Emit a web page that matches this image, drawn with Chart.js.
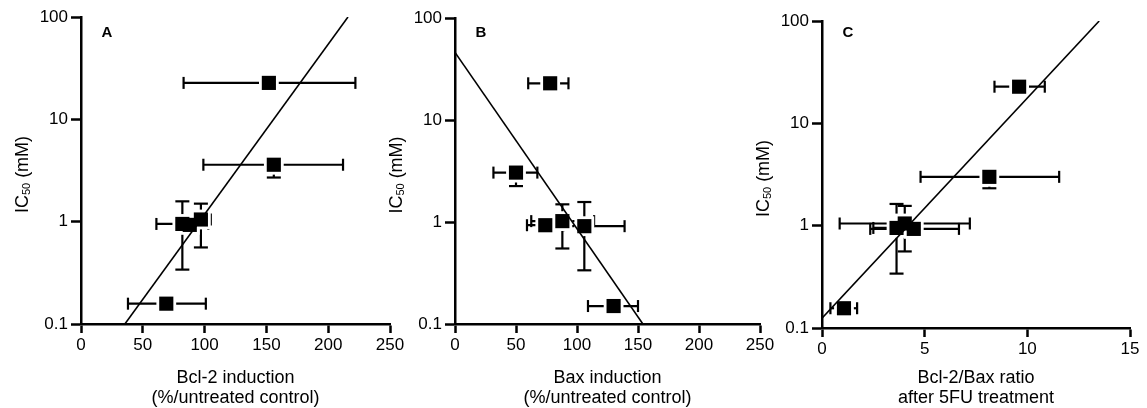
<!DOCTYPE html>
<html>
<head>
<meta charset="utf-8">
<script src="https://cdn.jsdelivr.net/npm/chart.js@4.4.1/dist/chart.umd.min.js"></script>
<style>
  html, body { margin: 0; padding: 0; background: #fff; }
  #wrap { position: relative; width: 1147px; height: 408px; overflow: hidden; }
  canvas { position: absolute; top: 0; }
</style>
</head>
<body>
<div id="wrap">
  <canvas id="panelA" width="410" height="408" style="left:0px"></canvas>
  <canvas id="panelB" width="410" height="408" style="left:370px"></canvas>
  <canvas id="panelC" width="407" height="408" style="left:740px"></canvas>
</div>
<script>
const FONT = '"Liberation Sans", Arial, Helvetica, sans-serif';

// y axis (IC50, mM) ticks shared by all panels
const yTicks = [0.1, 1, 10, 100];

// panel A: Bcl-2 induction (%/untreated control)
const aX   = [152, 156, 82, 97, 88, 69];
const aY   = [22.7, 3.6, 0.95, 1.05, 0.93, 0.158];
const aXLo = [83, 99, 61, 90, 82, 38];
const aXHi = [222, 212, 103, 105, 94, 101];
const aYLo = [null, 2.7, 0.34, 0.56, null, null];
const aYHi = [null, null, 1.58, 1.5, null, null];
const aFitX = [35.5, 216];
const aFitY = [0.1, 100];

// panel B: Bax induction (%/untreated control)
const bX   = [78, 50, 106, 88, 74, 130];
const bY   = [22.9, 3.05, 0.91, 1.02, 0.93, 0.15];
const bXLo = [60, 31.5, 73, 62.5, 59, 109];
const bXHi = [93, 67.5, 139, 114, 89, 150];
const bYLo = [null, 2.25, 0.336, 0.55, null, null];
const bYHi = [null, null, 1.57, 1.49, null, null];
const bFitX = [0, 154];
const bFitY = [46, 0.1];

// panel C: Bcl-2/Bax ratio after 5FU treatment
const cX   = [9.6, 8.15, 3.63, 4.03, 4.47, 1.07];
const cY   = [22.8, 3.0, 0.95, 1.05, 0.93, 0.156];
const cXLo = [8.4, 4.8, 2.5, 0.86, 2.35, 0.41];
const cXHi = [10.85, 11.55, 4.76, 7.2, 6.67, 1.71];
const cYLo = [null, 2.32, 0.34, 0.56, null, null];
const cYHi = [null, null, 1.63, 1.56, null, null];
const cFitX = [0, 13.5];
const cFitY = [0.125, 100];

// error bars go under the squares
const errorBars = {
  id: 'errorBars',
  beforeDatasetsDraw(chart, args, o) {
    const { ctx, scales: { x, y } } = chart;
    const seg = (x1, y1, x2, y2) => { ctx.beginPath(); ctx.moveTo(x1, y1); ctx.lineTo(x2, y2); ctx.stroke(); };
    ctx.save();
    ctx.strokeStyle = '#000';
    ctx.lineWidth = 2.2;
    o.x.forEach((xv, i) => {
      const px = x.getPixelForValue(xv);
      const py = y.getPixelForValue(o.y[i]);
      if (o.xLo[i] != null) {
        const a = x.getPixelForValue(o.xLo[i]);
        const b = x.getPixelForValue(o.xHi[i]);
        seg(a, py, b, py);
        seg(a, py - 6, a, py + 6);
        seg(b, py - 6, b, py + 6);
      }
      [o.yLo[i], o.yHi[i]].forEach(v => {
        if (v == null) return;
        const q = y.getPixelForValue(v);
        seg(px, py, px, q);
        seg(px - 7, q, px + 7, q);
      });
    });
    ctx.restore();
  }
};

// IC50 title with subscript + panel letter
const labels = {
  id: 'labels',
  afterDraw(chart, args, o) {
    const { ctx, chartArea } = chart;
    ctx.save();
    ctx.fillStyle = '#000';
    ctx.textBaseline = 'middle';
    ctx.translate(chartArea.left - 58, (chartArea.top + chartArea.bottom) / 2 + 4);
    ctx.rotate(-Math.PI / 2);
    const big = '18px ' + FONT, small = '11px ' + FONT;
    ctx.font = big;
    const w1 = ctx.measureText('IC').width, w3 = ctx.measureText(' (mM)').width;
    ctx.font = small;
    const w2 = ctx.measureText('50').width;
    let tx = -(w1 + w2 + w3) / 2;
    ctx.font = big; ctx.fillText('IC', tx, 0); tx += w1;
    ctx.font = small; ctx.fillText('50', tx, 4); tx += w2;
    ctx.font = big; ctx.fillText(' (mM)', tx, 0);
    ctx.restore();

    ctx.save();
    ctx.fillStyle = '#000';
    ctx.font = 'bold 15px ' + FONT;
    ctx.textAlign = 'center';
    ctx.textBaseline = 'middle';
    ctx.fillText(o.letter, chartArea.left + 26, 33);
    ctx.restore();
  }
};

function makePanel(id, p) {
  const pts = p.x.map((v, i) => ({ x: v, y: p.y[i] }));
  const fit = p.fitX.map((v, i) => ({ x: v, y: p.fitY[i] }));
  return new Chart(document.getElementById(id), {
    type: 'scatter',
    data: {
      datasets: [
        { data: fit, showLine: true, borderColor: '#000', borderWidth: 1.6, pointRadius: 0, fill: false },
        { data: pts, pointStyle: 'rect', pointRadius: 10, backgroundColor: '#000', borderWidth: 0 },
        { data: pts, pointStyle: 'rect', pointRadius: 14, backgroundColor: '#fff', borderWidth: 0 }
      ]
    },
    plugins: [errorBars, labels],
    options: {
      responsive: false,
      animation: false,
      events: [],
      layout: { padding: { top: p.top, right: p.right, bottom: 0, left: 0 } },
      plugins: {
        legend: { display: false },
        tooltip: { enabled: false },
        errorBars: { x: p.x, y: p.y, xLo: p.xLo, xHi: p.xHi, yLo: p.yLo, yHi: p.yHi },
        labels: { letter: p.letter }
      },
      scales: {
        x: {
          type: 'linear',
          min: 0,
          max: p.xMax,
          ticks: { stepSize: p.step, color: '#000', font: { family: FONT, size: 17 }, padding: 2, maxRotation: 0 },
          grid: { drawOnChartArea: false, drawTicks: true, tickLength: 9, tickWidth: 2.5, tickColor: '#000' },
          border: { display: true, color: '#000', width: 2.5 },
          title: {
            display: true,
            text: p.xTitle,
            color: '#000',
            font: { family: FONT, size: 18, lineHeight: 1.12 },
            padding: { top: 0, bottom: 0 }
          },
          afterFit: s => { s.height = p.xAxisH; }
        },
        y: {
          type: 'logarithmic',
          min: 0.1,
          max: 100,
          afterBuildTicks: s => { s.ticks = yTicks.map(v => ({ value: v })); },
          ticks: { color: '#000', font: { family: FONT, size: 17 }, padding: 3, callback: v => String(v) },
          grid: { drawOnChartArea: false, drawTicks: true, tickLength: 10, tickWidth: 2.5, tickColor: '#000' },
          border: { display: true, color: '#000', width: 2.5 },
          afterFit: s => { s.width = p.yAxisW; }
        }
      }
    }
  });
}

makePanel('panelA', {
  letter: 'A', x: aX, y: aY, xLo: aXLo, xHi: aXHi, yLo: aYLo, yHi: aYHi, fitX: aFitX, fitY: aFitY,
  xMax: 250, step: 50, xTitle: ['Bcl-2 induction', '(%/untreated control)'],
  top: 17, right: 20, yAxisW: 81, xAxisH: 84
});
makePanel('panelB', {
  letter: 'B', x: bX, y: bY, xLo: bXLo, xHi: bXHi, yLo: bYLo, yHi: bYHi, fitX: bFitX, fitY: bFitY,
  xMax: 250, step: 50, xTitle: ['Bax induction', '(%/untreated control)'],
  top: 18, right: 20, yAxisW: 85, xAxisH: 84
});
makePanel('panelC', {
  letter: 'C', x: cX, y: cY, xLo: cXLo, xHi: cXHi, yLo: cYLo, yHi: cYHi, fitX: cFitX, fitY: cFitY,
  xMax: 15, step: 5, xTitle: ['Bcl-2/Bax ratio', 'after 5FU treatment'],
  top: 21, right: 17, yAxisW: 82, xAxisH: 80
});
</script>
</body>
</html>
